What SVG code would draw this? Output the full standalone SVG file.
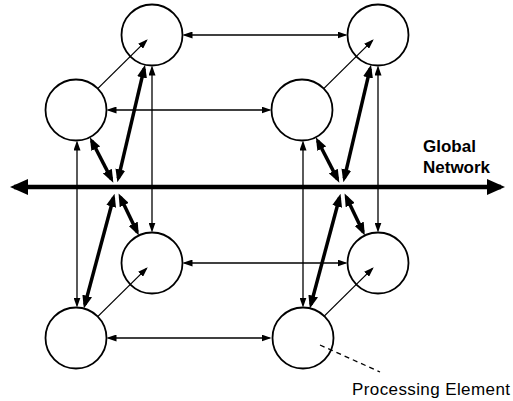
<svg xmlns="http://www.w3.org/2000/svg" width="513" height="401" viewBox="0 0 513 401">
<style>
.node circle{fill:#fff;stroke:#000;stroke-width:1.8}
.thin{stroke:#000;stroke-width:1.3;fill:none;marker-end:url(#a);}
.thin2{marker-start:url(#a)}
.thick{stroke:#000;stroke-width:3.5;fill:none;marker-start:url(#b);marker-end:url(#b)}
.glob{stroke:#000;stroke-width:4.5;fill:none;marker-start:url(#c);marker-end:url(#c)}
.dash{stroke:#000;stroke-width:1.3;stroke-dasharray:5 4;fill:none}
text{font-family:"Liberation Sans",Arial,sans-serif;fill:#000}
.lbl{font-size:17px;font-weight:bold}
.pe{font-size:17px}
</style>
<defs>
<marker id="a" markerUnits="userSpaceOnUse" markerWidth="10" markerHeight="7" refX="8" refY="3.5" orient="auto-start-reverse"><path d="M0,0L10,3.5L0,7z" fill="#000"/></marker>
<marker id="b" markerUnits="userSpaceOnUse" markerWidth="13" markerHeight="10" refX="9" refY="5" orient="auto-start-reverse"><path d="M0,0L13,5L0,10z" fill="#000"/></marker>
<marker id="c" markerUnits="userSpaceOnUse" markerWidth="18" markerHeight="16" refX="14" refY="8" orient="auto-start-reverse"><path d="M0,0L18,8L0,16z" fill="#000"/></marker>
</defs>
<g id="n-l-tb" class="node"><circle cx="152" cy="35" r="30.5"/></g>
<g id="n-l-ft" class="node"><circle cx="76" cy="110" r="30.5"/></g>
<g id="n-l-bb" class="node"><circle cx="152" cy="263" r="30.5"/></g>
<g id="n-l-bf" class="node"><circle cx="76" cy="338" r="30.5"/></g>
<g id="n-r-tb" class="node"><circle cx="378" cy="35" r="30.5"/></g>
<g id="n-r-ft" class="node"><circle cx="302" cy="110" r="30.5"/></g>
<g id="n-r-bb" class="node"><circle cx="378" cy="263" r="30.5"/></g>
<g id="n-r-bf" class="node"><circle cx="303" cy="338" r="30.5"/></g>
<g id="connectors">
<path class="glob" d="M14,187H501"/>
<path class="thin thin2" d="M184.5,35H345.5"/>
<path class="thin thin2" d="M108.5,110H269.5"/>
<path class="thin thin2" d="M184.5,263H345.5"/>
<path class="thin thin2" d="M108.5,338H269.5"/>
<path class="thin thin2" d="M77,142.5V305.5"/>
<path class="thin thin2" d="M152,67.5V230.5"/>
<path class="thin thin2" d="M303,142.5V305.5"/>
<path class="thin thin2" d="M378,67.5V230.5"/>
<path class="thin" d="M97.7,88.6L146.3,40.6"/>
<path class="thin" d="M97.7,316.6L146.3,268.6"/>
<path class="thin" d="M323.7,88.6L372.3,40.6"/>
<path class="thin" d="M323.7,316.6L372.3,268.6"/>
<path class="thick" d="M91.7,140.7L111.5,179.1"/>
<path class="thick" d="M144.1,68.6L118.3,178.3"/>
<path class="thick" d="M137.1,231.9L120.3,197"/>
<path class="thick" d="M84.9,304.6L113.5,197.7"/>
<path class="thick" d="M317.7,140.7L337.5,179.1"/>
<path class="thick" d="M370.1,68.6L344.3,178.3"/>
<path class="thick" d="M363.1,231.9L346.3,197"/>
<path class="thick" d="M310.9,304.6L339.5,197.7"/>
<path class="dash" d="M320,345L380,372"/>
</g>
<g id="labels">
<text class="lbl" x="423" y="152">Global</text>
<text class="lbl" x="423" y="173">Network</text>
<text class="pe" x="352" y="395" textLength="158">Processing Element</text>
</g>
</svg>
